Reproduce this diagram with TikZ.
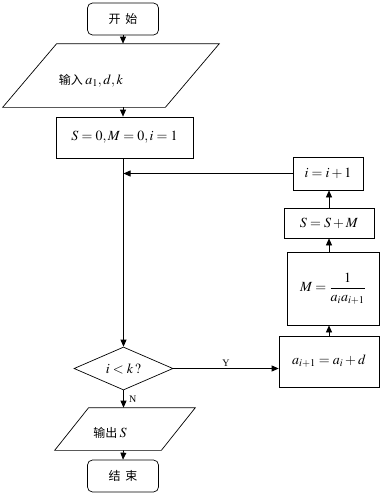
\documentclass[tikz,border=0pt]{standalone}
\usepackage{mathptmx}
\usepackage{fontspec}
\setmainfont{Liberation Serif}
\newfontfamily\cjk{Noto Sans CJK SC}
\usetikzlibrary{shapes.geometric,arrows.meta}
\begin{document}
\begin{tikzpicture}[x=1pt,y=-1pt,line width=0.7pt,
  every node/.style={font=\fontsize{14}{16}\selectfont},
  flow/.style={-{Triangle[length=7pt,width=6pt]}},
  proc/.style={draw,rectangle,inner sep=0pt},
  term/.style={draw,rectangle,rounded corners=5pt,inner sep=0pt,
    minimum width=71pt,minimum height=32pt},
  slant/.style={inner sep=0pt},
  cn/.style={font=\cjk\fontsize{12}{14}\selectfont},
  tag/.style={font=\fontsize{10}{12}\selectfont}]
\useasboundingbox (0,0) rectangle (380,493);
% left column
\node[term,cn] (start) at (123,19) {开\hspace{5pt}始};
\node[slant,minimum width=216pt,minimum height=63pt] (input) at (111,75.5) {};
\draw ([xshift=54pt]input.north west) -- (input.north east)
  -- ([xshift=-54pt]input.south east) -- (input.south west) -- cycle;
\node (inputtxt) at (91,81) {{\cjk\fontsize{12}{14}\selectfont 输入}\,$a_1, d, k$};
\node[proc,minimum width=137pt,minimum height=41pt] (init) at (124.5,137.5)
  {$S=0, M=0, i=1$};
\node[draw,diamond,aspect=2.3,inner sep=0pt,minimum width=99pt,minimum height=43pt]
  (cond) at (123.5,368.5) {$i<k\,?$};
\node[slant,minimum width=140pt,minimum height=42pt] (output) at (125,429) {};
\draw ([xshift=34pt]output.north west) -- (output.north east)
  -- ([xshift=-34pt]output.south east) -- (output.south west) -- cycle;
\node (outputtxt) at (110,433) {{\cjk\fontsize{12}{14}\selectfont 输出}\,$S$};
\node[term,cn] (stop) at (123,476) {结\hspace{5pt}束};
% right column
\node[proc,minimum width=70pt,minimum height=33pt] (incr) at (328,173.5) {$i=i+1$};
\node[proc,minimum width=90pt,minimum height=30pt] (accum) at (329,223) {$S=S+M$};
\node[proc,minimum width=92pt,minimum height=73pt] (recip) at (333,288.5)
  {$M=\displaystyle\frac{1}{a_ia_{i+1}}$};
\node[proc,minimum width=100pt,minimum height=51pt] (next) at (329,361.5)
  {$a_{i+1}=a_i+d$};
% connectors
\draw[flow] (start.south) -- (start.south |- input.north);
\draw[flow] (start.south |- input.south) -- (start.south |- init.north);
\draw[flow] (cond.north |- init.south) -- (cond.north);
\draw[flow] (incr.west) -- (incr.west -| cond.north);
\draw[flow] (cond.east) -- (cond.east -| next.west)
  node[midway,above,tag,yshift=-2pt] {Y};
\draw[flow] (cond.south) -- (cond.south |- output.north)
  node[midway,right,tag,xshift=2pt] {N};
\draw[flow] (cond.south |- output.south) -- (stop.north);
\draw[flow] (next.north) -- (next.north |- recip.south);
\draw[flow] (next.north |- recip.north) -- (next.north |- accum.south);
\draw[flow] (accum.north) -- (accum.north |- incr.south);
\end{tikzpicture}
\end{document}
